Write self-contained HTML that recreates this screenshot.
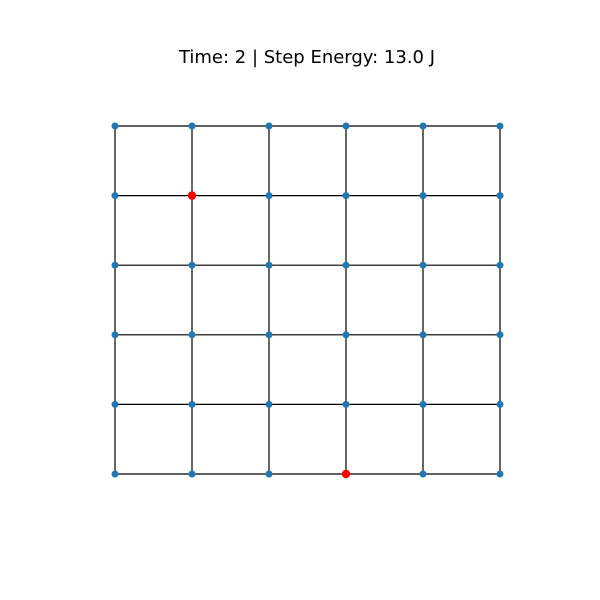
<!DOCTYPE html>
<html><head><meta charset="utf-8"><style>body{margin:0;background:#fff}svg{display:block}</style></head>
<body>
<svg id="chart" width="600" height="600" xmlns="http://www.w3.org/2000/svg">
<text x="307" y="63" text-anchor="middle" font-family="DejaVu Sans, sans-serif" font-size="18" fill="#000">Time: 2 | Step Energy: 13.0 J</text>
<g id="edges"></g>
<g id="nodes"></g>
</svg>
<script>
const cols = [0,1,2,3,4,5];
const rows = [0,1,2,3,4,5];
const activeNodes = [[1,4],[3,0]]; // [col,row] with row 0 = bottom
const x = c => 115 + c*77;
const y = r => 474 - r*69.6;
const NS='http://www.w3.org/2000/svg';
const eg=document.getElementById('edges'), ng=document.getElementById('nodes');
function line(x1,y1,x2,y2,name){const l=document.createElementNS(NS,'line');
l.setAttribute('x1',x1);l.setAttribute('y1',y1);l.setAttribute('x2',x2);l.setAttribute('y2',y2);
l.setAttribute('stroke','#000');l.setAttribute('stroke-width','1.2');


eg.appendChild(l);}
cols.forEach(c=>rows.forEach(r=>{
 if(c<cols.length-1) line(x(c),y(r),x(c+1),y(r),'edge-h');
 if(r<rows.length-1) line(x(c),y(r),x(c),y(r+1),'edge-v');
}));
cols.forEach(c=>rows.forEach(r=>{
 const act=activeNodes.some(a=>a[0]===c&&a[1]===r);
 const e=document.createElementNS(NS,'circle');
 e.setAttribute('cx',x(c));e.setAttribute('cy',y(r));e.setAttribute('r',act?4.2:3.5);
 e.setAttribute('fill',act?'#ff0000':'#1f77b4');
 
 
 ng.appendChild(e);
}));
</script>
</body></html>
